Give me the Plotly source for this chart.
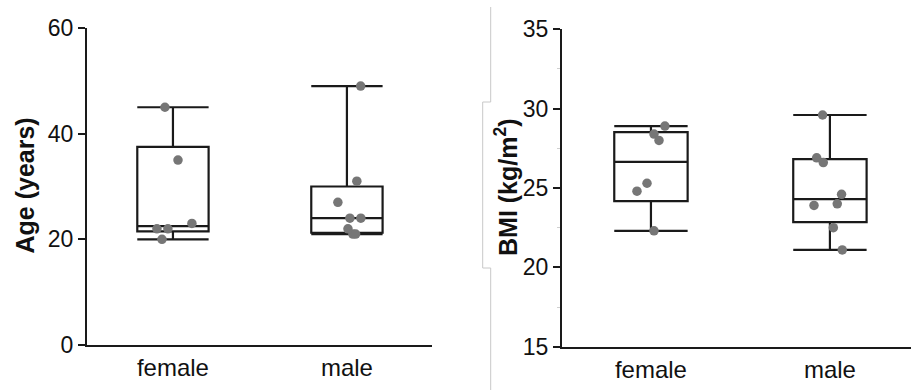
import numpy as np
import plotly.graph_objects as go

# Categories
groups = ["female", "male"]

# Age (years) per participant
age_female = [45, 35, 22, 22, 23, 20]
age_male = [49, 31, 27, 24, 24, 22, 21, 21]

# BMI (kg/m^2) per participant
bmi_female = [28.9, 28.4, 28.0, 25.3, 24.8, 22.3]
bmi_male = [29.6, 26.9, 26.6, 24.6, 24.0, 23.9, 22.5, 21.1]

# Horizontal scatter offsets of the dots (category units)
age_female_jit = [-0.046, 0.029, -0.092, -0.029, 0.109, -0.063]
age_male_jit = [0.079, 0.057, -0.052, 0.017, 0.080, 0.006, 0.034, 0.050]
bmi_female_jit = [0.078, 0.017, 0.045, -0.022, -0.078, 0.017]
bmi_male_jit = [-0.041, -0.074, -0.037, 0.065, 0.041, -0.089, 0.019, 0.069]

W, H = 911, 390
LINE = "#1a1a1a"
DOT = "#767676"
FONT = "Liberation Sans, Arial, sans-serif"


def stats(v):
    a = np.asarray(v, dtype=float)
    q1, med, q3 = np.percentile(a, [25, 50, 75], method="weibull")
    return dict(q1=[q1], median=[med], q3=[q3],
                lowerfence=[a.min()], upperfence=[a.max()])


fig = go.Figure()

panels = [
    ("x", "y", [age_female, age_male], [age_female_jit, age_male_jit]),
    ("x2", "y2", [bmi_female, bmi_male], [bmi_female_jit, bmi_male_jit]),
]

for xa, ya, series, jits in panels:
    for i, vals in enumerate(series):
        fig.add_trace(go.Box(
            x=[i], **stats(vals), width=0.41, whiskerwidth=1,
            boxpoints=False, fillcolor="rgba(255,255,255,0)",
            line=dict(color=LINE, width=2.2), xaxis=xa, yaxis=ya,
            showlegend=False, hoverinfo="skip",
        ))
    for i, (vals, jit) in enumerate(zip(series, jits)):
        fig.add_trace(go.Scatter(
            x=[i + j for j in jit], y=vals, mode="markers",
            marker=dict(size=9.5, color=DOT, line=dict(width=0)),
            xaxis=xa, yaxis=ya, showlegend=False,
        ))


def px_x(p):
    return p / W


def px_y(p):
    return 1 - p / H


xcommon = dict(
    tickmode="array", tickvals=[0, 1], ticktext=groups, ticks="",
    showline=True, linecolor=LINE, linewidth=2.2, showgrid=False,
    zeroline=False, tickfont=dict(size=24, color="#111", family=FONT),
    fixedrange=True, automargin=False,
)
ycommon = dict(
    ticks="outside", ticklen=7, tickwidth=2, tickcolor=LINE,
    showline=True, linecolor=LINE, linewidth=2.2, showgrid=False,
    zeroline=False, tickfont=dict(size=23, color="#111", family=FONT),
    fixedrange=True, automargin=False,
)

fig.update_layout(
    width=W, height=H,
    margin=dict(l=0, r=0, t=0, b=0, autoexpand=False),
    paper_bgcolor="white", plot_bgcolor="white",
    font=dict(family=FONT, color="#111"),
    xaxis=dict(domain=[px_x(87), px_x(432)], range=[-0.494, 1.489],
               anchor="y", **xcommon),
    yaxis=dict(domain=[px_y(345), px_y(28)], range=[0, 60], dtick=20,
               anchor="x", **ycommon),
    xaxis2=dict(domain=[px_x(562), 1.0], range=[-0.497, 1.453],
                anchor="y2", **xcommon),
    yaxis2=dict(domain=[px_y(346.7), px_y(29.3)], range=[15, 35], dtick=5,
                anchor="x2",
                minor=dict(ticks="outside", ticklen=3, tickwidth=1,
                           tickcolor="#cfcfcf", dtick=2.5),
                **ycommon),
    annotations=[
        dict(text="<b>Age (years)</b>", textangle=-90, x=px_x(24.5),
             y=px_y(186), xref="paper", yref="paper", showarrow=False,
             xanchor="center", yanchor="middle",
             font=dict(size=25, family=FONT, color="#111")),
        dict(text="<b>BMI (kg/m<sup>2</sup>)</b>", textangle=-90,
             x=px_x(506), y=px_y(187), xref="paper", yref="paper",
             showarrow=False, xanchor="center", yanchor="middle",
             font=dict(size=25, family=FONT, color="#111")),
    ],
)

# Thin grey separator between the two panels
path = "M {a},{t} L {a},{b1} L {c},{b1} L {c},{b2} L {a},{b2} L {a},{e}".format(
    a=px_x(490.7), c=px_x(482.7), t=px_y(7), b1=px_y(102),
    b2=px_y(268), e=px_y(390))
fig.add_shape(type="path", path=path, xref="paper", yref="paper",
              line=dict(color="#c8c8c8", width=1), layer="below")

fig.write_html("out.html")
